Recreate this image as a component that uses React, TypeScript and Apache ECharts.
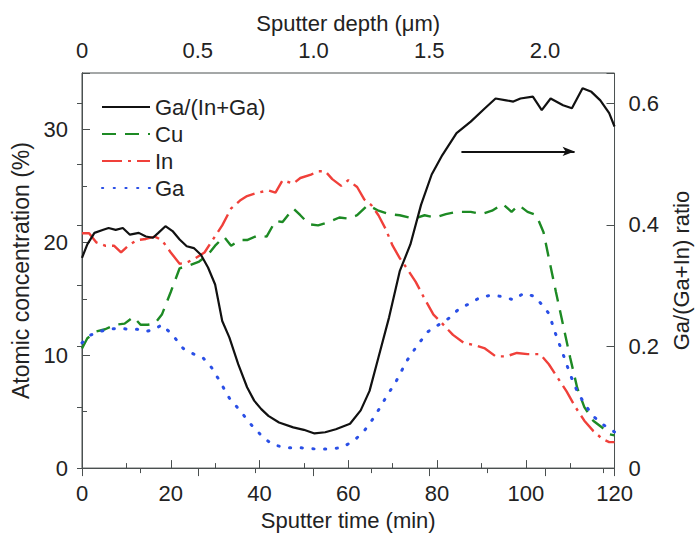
import React, { useEffect, useRef } from "react";
import * as echarts from "echarts";

const TIME_MAX = 120;
const CONC_MAX = 35;
const RATIO_MAX = 0.65;
const DEPTH_MAX = 2.3;

const seriesNames = ["Ga/(In+Ga)", "Cu", "In", "Ga"];

// Ga/(In+Ga) ratio vs sputter time (right axis)
const ratioData: [number, number][] = [
  [0, 0.346], [1.2, 0.368], [2.8, 0.387], [4.8, 0.392], [6, 0.395], [7.6, 0.392], [9.2, 0.395],
  [10.8, 0.384], [12.8, 0.387], [14.4, 0.381], [16, 0.379], [17.2, 0.387], [18.8, 0.398],
  [20.4, 0.39], [22, 0.376], [23.6, 0.365], [25.2, 0.362], [26.8, 0.351], [28.4, 0.33],
  [30, 0.302], [31.6, 0.242], [33.2, 0.215], [35.2, 0.171], [37.2, 0.133], [38.8, 0.111],
  [40.4, 0.097], [42, 0.086], [44.4, 0.075], [47.6, 0.067], [50, 0.063], [52.4, 0.057],
  [54.8, 0.059], [57.2, 0.064], [60.4, 0.073], [62.8, 0.095], [64.8, 0.127], [66.8, 0.182],
  [69.2, 0.248], [71.6, 0.324], [74, 0.368], [76.4, 0.433], [78.8, 0.483], [81.2, 0.515],
  [84.4, 0.551], [87.6, 0.57], [90.8, 0.592], [93.2, 0.608], [95.6, 0.605], [97.2, 0.603],
  [98.8, 0.608], [101.6, 0.611], [103.6, 0.589], [105.6, 0.608], [108.4, 0.597], [110.4, 0.592],
  [112.8, 0.625], [114.8, 0.619], [116.8, 0.605], [118.8, 0.584], [120, 0.562],
];

// Cu atomic concentration (%)
const cuData: [number, number][] = [
  [0, 10.6], [1.2, 11.5], [3.2, 12.1], [5.2, 12.3], [7.6, 12.7], [9.6, 12.8], [11.6, 13.4],
  [13.2, 12.7], [14.8, 12.7], [16.4, 12.8], [18, 13.6], [20, 15.6], [22, 17.7], [24.4, 18.0],
  [26.4, 18.3], [28.4, 18.9], [30, 19.7], [32, 20.5], [33.6, 19.7], [35.6, 20.2], [37.2, 20.2],
  [39.6, 20.6], [41.6, 20.5], [43.6, 21.9], [45.2, 21.8], [47.6, 23.0], [49.2, 22.4],
  [51.2, 21.6], [53.2, 21.5], [55.6, 21.8], [58, 22.2], [60, 22.1], [62, 22.4], [64.4, 23.3],
  [66.8, 22.8], [69.2, 22.5], [71.6, 22.4], [74.8, 22.1], [77.2, 22.4], [79.6, 22.2], [82, 22.5],
  [84.4, 22.7], [87.6, 22.7], [90, 22.5], [92.4, 22.8], [94.8, 23.4], [96.8, 22.7], [98.4, 23.3],
  [100.4, 22.7], [102.4, 22.4], [104, 20.9], [105.2, 18.6], [106.8, 15.6], [108.4, 12.7],
  [110, 9.8], [111.6, 7.1], [113.2, 5.4], [115.2, 4.2], [117.2, 3.6], [118.8, 3.0], [120, 2.9],
];

// In atomic concentration (%)
const inData: [number, number][] = [
  [0, 20.8], [1.6, 20.8], [3.2, 20.0], [5.2, 19.7], [7.2, 19.7], [8.8, 19.1], [10.4, 19.7],
  [12.4, 20.2], [14.4, 20.3], [16.4, 20.5], [18, 20.2], [20, 19.1], [22, 18.1], [23.6, 18.2],
  [25.6, 18.6], [27.6, 19.1], [29.6, 20.3], [31.6, 21.5], [33.6, 23.0], [35.6, 23.7], [37.2, 24.1],
  [39.6, 24.4], [42, 24.6], [43.6, 24.4], [45.2, 25.5], [47.6, 25.2], [49.2, 25.7], [51.6, 26.0],
  [53.2, 26.3], [54.8, 26.3], [56.4, 25.6], [58.4, 25.0], [60, 25.5], [62, 24.9], [63.6, 23.8],
  [65.2, 23.3], [66.8, 22.4], [68.4, 21.2], [70, 19.7], [71.6, 18.6], [73.2, 17.7], [75.2, 16.5],
  [77.2, 15.0], [79.2, 13.6], [81.2, 12.8], [83.6, 11.8], [86, 11.1], [88.4, 10.9], [90.8, 10.6],
  [93.2, 9.9], [95.6, 9.9], [98, 10.2], [100.4, 10.1], [103.2, 10.1], [105.2, 9.2], [107.2, 8.0],
  [109.2, 6.8], [111.2, 5.4], [113.2, 4.2], [115.2, 3.3], [117.2, 2.6], [118.8, 2.3], [120, 2.3],
];

// Ga atomic concentration (%)
const gaData: [number, number][] = [
  [0, 11.1], [2, 11.8], [4, 12.1], [6, 12.3], [8.4, 12.4], [10.4, 12.3], [12.4, 12.3],
  [14.4, 12.1], [16.4, 12.3], [18, 12.7], [20.4, 11.8], [22.8, 10.6], [25.2, 10.1], [27.2, 9.8],
  [29.2, 8.9], [31.2, 7.6], [33.2, 6.2], [35.6, 5.1], [38, 3.9], [40.4, 2.9], [42.8, 2.1],
  [46, 1.8], [49.2, 1.8], [52.4, 1.7], [55.6, 1.7], [58.4, 1.8], [61.2, 2.4], [63.6, 3.3],
  [66, 4.6], [68.4, 6.2], [70.8, 7.7], [73.2, 9.5], [75.6, 10.9], [78, 12.1], [80.4, 12.7],
  [82.8, 13.3], [85.2, 14.2], [87.6, 14.6], [90, 15.2], [92.4, 15.3], [94.8, 15.2], [97.2, 14.9],
  [99.6, 15.5], [102, 15.2], [103.6, 14.5], [105.2, 13.7], [106.8, 11.8], [108.4, 10.1],
  [110, 8.3], [111.6, 6.8], [113.2, 5.7], [115.2, 4.6], [117.2, 3.9], [118.8, 3.5], [120, 3.2],
];

// arrow pointing to the right axis (time range, ratio level)
const arrowFrom: [number, number] = [85.5, 0.521];
const arrowTo: [number, number] = [111, 0.521];

const FONT = "Liberation Sans, Arial, Helvetica, sans-serif";
const TXT = "#222222";
const AX = "#4a5050";
const FS = 22;

const isMult = (v: number, step: number) => Math.abs(v / step - Math.round(v / step)) < 1e-6;

export default function App() {
  const ref = useRef<HTMLDivElement>(null);

  useEffect(() => {
    if (!ref.current) return;
    const chart = echarts.init(ref.current, null, { renderer: "svg" });

    const labelStyle = { color: TXT, fontSize: FS, fontFamily: FONT };
    const nameStyle = { color: TXT, fontSize: FS, fontFamily: FONT };
    const axisLine = { show: true, lineStyle: { color: AX, width: 1 } };

    const option: any = {
      animation: false,
      backgroundColor: "#ffffff",
      textStyle: { fontFamily: FONT },
      grid: {
        left: 82,
        right: 83,
        top: 73,
        bottom: 65,
        show: true,
        borderColor: AX,
        borderWidth: 1,
        backgroundColor: "transparent",
      },
      legend: {
        data: seriesNames,
        orient: "vertical",
        left: 96,
        top: 91,
        itemWidth: 48,
        itemHeight: 14,
        itemGap: 5,
        itemStyle: { opacity: 0 },
        textStyle: { color: TXT, fontSize: FS, fontFamily: FONT },
        selectedMode: false,
      },
      xAxis: [
        {
          type: "value",
          position: "bottom",
          min: 0,
          max: TIME_MAX,
          interval: 20,
          name: "Sputter time (min)",
          nameLocation: "middle",
          nameGap: 38,
          nameTextStyle: nameStyle,
          axisLine,
          axisTick: { show: true, inside: true, length: 8, lineStyle: { color: AX } },
          minorTick: { show: true, splitNumber: 2, length: 5, lineStyle: { color: AX } },
          splitLine: { show: false },
          axisLabel: { ...labelStyle, margin: 14 },
        },
        {
          type: "value",
          position: "top",
          min: 0,
          max: DEPTH_MAX,
          interval: 0.25,
          name: "Sputter depth (\u03bcm)",
          nameLocation: "middle",
          nameGap: 36,
          nameTextStyle: nameStyle,
          axisLine,
          axisTick: { show: true, inside: true, length: 5, lineStyle: { color: AX } },
          splitLine: { show: false },
          axisLabel: {
            ...labelStyle,
            margin: 12,
            showMaxLabel: false,
            formatter: (v: number) =>
              isMult(v, 0.5) ? (v === 0 ? "0" : v.toFixed(1)) : "",
          },
        },
        {
          type: "value",
          position: "top",
          min: 0,
          max: DEPTH_MAX,
          interval: 0.5,
          axisLine: { show: false },
          axisTick: { show: true, inside: true, length: 8, lineStyle: { color: AX } },
          splitLine: { show: false },
          axisLabel: { show: false },
        },
      ],
      yAxis: [
        {
          type: "value",
          position: "left",
          min: 0,
          max: CONC_MAX,
          interval: 5,
          name: "Atomic concentration (%)",
          nameLocation: "middle",
          nameGap: 44,
          nameRotate: 90,
          nameTextStyle: { ...nameStyle, fontSize: 23 },
          axisLine,
          axisTick: { show: true, inside: true, length: 5, lineStyle: { color: AX } },
          splitLine: { show: false },
          axisLabel: {
            ...labelStyle,
            margin: 14,
            showMaxLabel: false,
            formatter: (v: number) => (isMult(v, 10) ? String(v) : ""),
          },
        },
        {
          type: "value",
          position: "right",
          min: 0,
          max: RATIO_MAX,
          interval: 0.1,
          name: "Ga/(Ga+In) ratio",
          nameLocation: "middle",
          nameGap: 55,
          nameRotate: 90,
          nameTextStyle: nameStyle,
          axisLine,
          axisTick: { show: true, inside: true, length: 5, lineStyle: { color: AX } },
          splitLine: { show: false },
          axisLabel: {
            ...labelStyle,
            margin: 14,
            showMaxLabel: false,
            formatter: (v: number) =>
              isMult(v, 0.2) ? (Math.abs(v) < 1e-9 ? "0" : v.toFixed(1)) : "",
          },
        },
        {
          type: "value",
          position: "left",
          min: 0,
          max: CONC_MAX,
          interval: 10,
          axisLine: { show: false },
          axisTick: { show: true, inside: true, length: 8, lineStyle: { color: AX } },
          splitLine: { show: false },
          axisLabel: { show: false },
        },
        {
          type: "value",
          position: "right",
          min: 0,
          max: RATIO_MAX,
          interval: 0.2,
          axisLine: { show: false },
          axisTick: { show: true, inside: true, length: 8, lineStyle: { color: AX } },
          splitLine: { show: false },
          axisLabel: { show: false },
        },
      ],
      series: [
        {
          name: "Cu",
          type: "line",
          xAxisIndex: 0,
          yAxisIndex: 0,
          data: cuData,
          showSymbol: false,
          symbol: "none",
          lineStyle: { color: "#1d8a24", width: 2.4, type: [14, 9] },
          itemStyle: { color: "#1d8a24" },
          z: 2,
        },
        {
          name: "In",
          type: "line",
          xAxisIndex: 0,
          yAxisIndex: 0,
          data: inData,
          showSymbol: false,
          symbol: "none",
          lineStyle: { color: "#f0403a", width: 2.4, type: [20, 6, 3, 6] },
          itemStyle: { color: "#f0403a" },
          z: 2,
        },
        {
          name: "Ga",
          type: "line",
          xAxisIndex: 0,
          yAxisIndex: 0,
          data: gaData,
          showSymbol: false,
          symbol: "none",
          lineStyle: { color: "#2a4fe6", width: 3, type: [1.2, 10.5], cap: "round" },
          itemStyle: { color: "#2a4fe6" },
          z: 2,
        },
        {
          name: "Ga/(In+Ga)",
          type: "line",
          xAxisIndex: 0,
          yAxisIndex: 1,
          data: ratioData,
          showSymbol: false,
          symbol: "none",
          lineStyle: { color: "#111111", width: 2.2, type: "solid" },
          itemStyle: { color: "#111111" },
          z: 3,
          markLine: {
            silent: true,
            symbol: ["none", "arrow"],
            symbolSize: [7, 12],
            label: { show: false },
            lineStyle: { color: "#111111", width: 2, type: "solid" },
            data: [[{ coord: arrowFrom }, { coord: arrowTo }]],
          },
        },
      ],
    };

    chart.setOption(option);
    return () => chart.dispose();
  }, []);

  return (
    <div
      ref={ref}
      style={{ position: "absolute", left: 0, top: 0, width: 700, height: 536 }}
    />
  );
}
